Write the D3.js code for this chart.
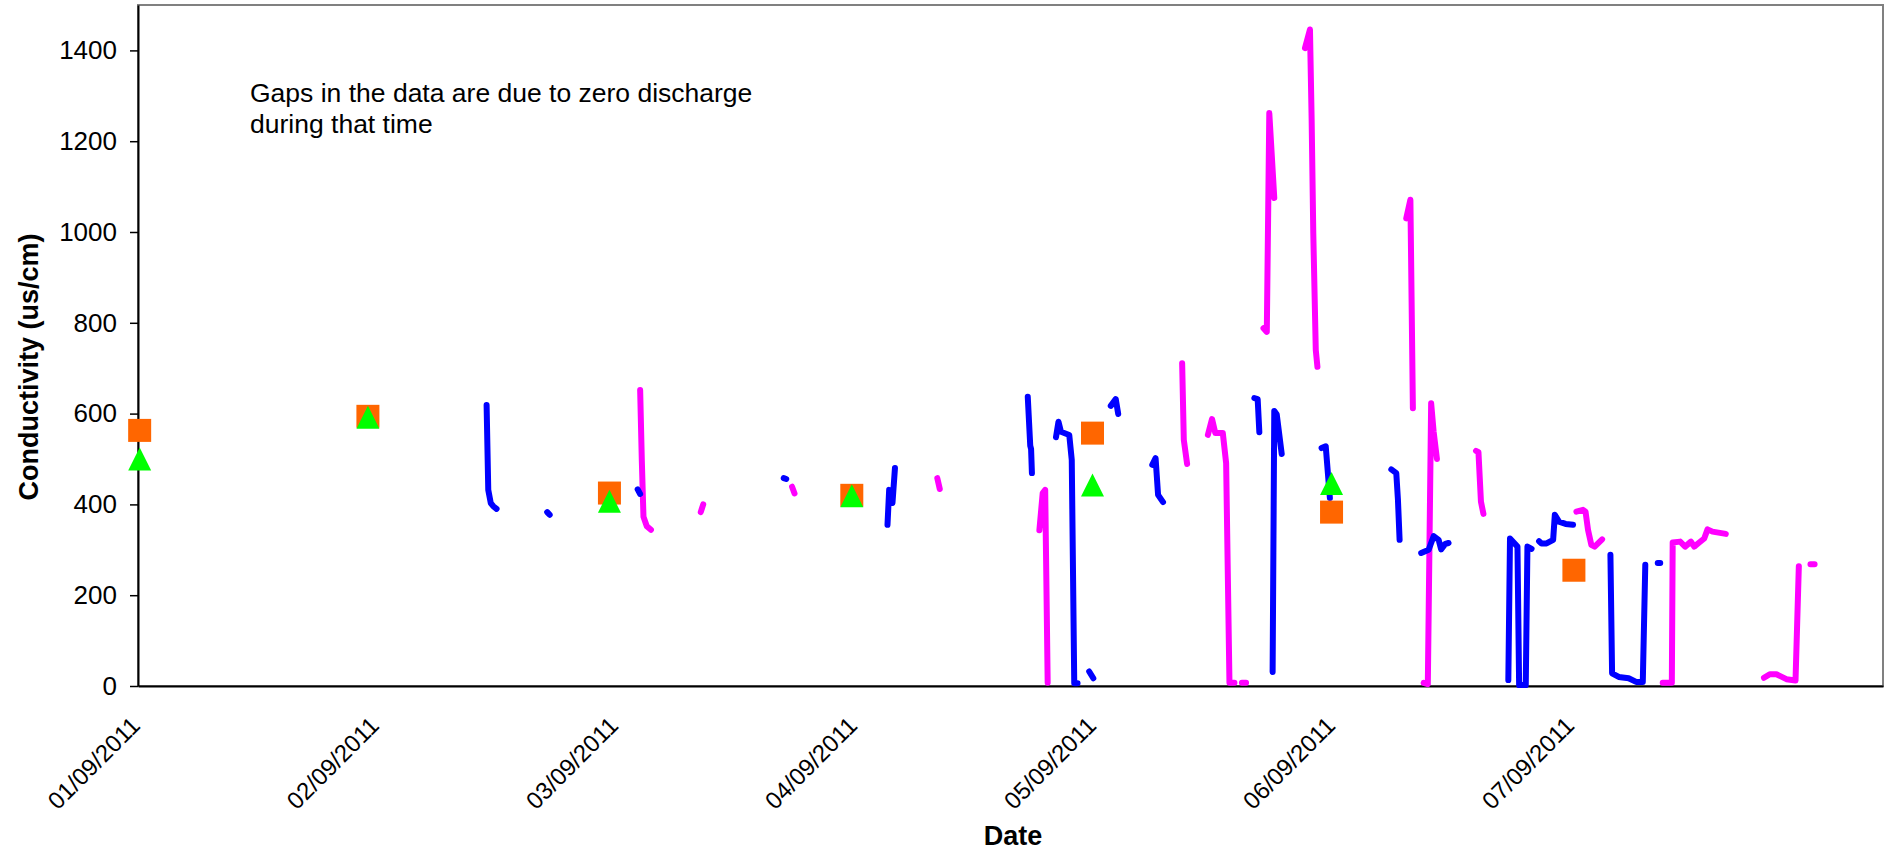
<!DOCTYPE html>
<html>
<head>
<meta charset="utf-8">
<script src="https://cdnjs.cloudflare.com/ajax/libs/d3/7.8.5/d3.min.js"></script>
<style>
body { margin: 0; background: #fff; }
svg { display: block; font-family: "Liberation Sans", Arial, sans-serif; }
</style>
</head>
<body>
<div id="chart"></div>
<script>
// values (null = gap, no discharge)
var yTicks = [0, 200, 400, 600, 800, 1000, 1200, 1400];
var xTickLabels = ["01/09/2011", "02/09/2011", "03/09/2011", "04/09/2011", "05/09/2011", "06/09/2011", "07/09/2011"];

var blueTimes = [
	"02/09/2011 11:00", "02/09/2011 11:10", "02/09/2011 11:25", "02/09/2011 11:40", "02/09/2011 12:00", null,
	"02/09/2011 17:05", "02/09/2011 17:20", null,
	"03/09/2011 02:10", "03/09/2011 02:25", null,
	"03/09/2011 16:50", "03/09/2011 17:05", null,
	"04/09/2011 03:15", "04/09/2011 03:25", "04/09/2011 03:45", "04/09/2011 04:00", null,
	"04/09/2011 17:20", "04/09/2011 17:35", "04/09/2011 17:40", "04/09/2011 17:45", null,
	"04/09/2011 20:10", "04/09/2011 20:25", "04/09/2011 20:40", "04/09/2011 21:30", "04/09/2011 21:45", "04/09/2011 22:00", "04/09/2011 22:20", null,
	"04/09/2011 23:30", "04/09/2011 23:55", null,
	"05/09/2011 01:40", "05/09/2011 02:10", "05/09/2011 02:25", null,
	"05/09/2011 05:50", "05/09/2011 06:10", "05/09/2011 06:25", "05/09/2011 06:55", null,
	"05/09/2011 16:05", "05/09/2011 16:25", "05/09/2011 16:35", null,
	"05/09/2011 17:55", "05/09/2011 18:05", "05/09/2011 18:20", "05/09/2011 18:50", null,
	"05/09/2011 22:50", "05/09/2011 23:15", "05/09/2011 23:40", null,
	"06/09/2011 05:50", "06/09/2011 06:20", "06/09/2011 06:30", "06/09/2011 06:40", null,
	"06/09/2011 08:50", "06/09/2011 09:35", "06/09/2011 10:05", "06/09/2011 10:35", "06/09/2011 10:50", "06/09/2011 11:15", "06/09/2011 11:35", null,
	"06/09/2011 17:35", "06/09/2011 17:45", "06/09/2011 18:30", "06/09/2011 18:40", "06/09/2011 19:20", "06/09/2011 19:30", "06/09/2011 19:55", null,
	"06/09/2011 20:40", "06/09/2011 20:55", "06/09/2011 21:25", "06/09/2011 22:05", "06/09/2011 22:15", "06/09/2011 22:40", "06/09/2011 23:20", "07/09/2011 00:05", null,
	"07/09/2011 03:50", "07/09/2011 04:00", "07/09/2011 04:40", "07/09/2011 05:40", "07/09/2011 06:25", "07/09/2011 07:05", "07/09/2011 07:20", null,
	"07/09/2011 08:35", "07/09/2011 08:50"
];
var blueValues = [
	619, 432, 403, 396, 390, null,
	383, 377, null,
	433, 423, null,
	458, 456, null,
	355, 432, 403, 480, null,
	637, 529, 522, 469, null,
	548, 582, 560, 553, 498, 6, 6, null,
	32, 17, null,
	617, 632, 599, null,
	487, 502, 421, 405, null,
	634, 632, 559, null,
	31, 606, 598, 511, null,
	524, 528, 414, null,
	477, 469, 410, 322, null,
	293, 300, 330, 322, 301, 313, 315, null,
	13, 325, 307, 2, 2, 307, 302, null,
	319, 314, 314, 322, 377, 362, 357, 355, null,
	289, 28, 20, 17, 9, 9, 267, null,
	271, 271
];

var magentaTimes = [
	"03/09/2011 02:25", "03/09/2011 02:35", "03/09/2011 02:45", "03/09/2011 03:05", "03/09/2011 03:30", null,
	"03/09/2011 08:30", "03/09/2011 08:45", null,
	"03/09/2011 17:40", "03/09/2011 17:55", null,
	"04/09/2011 08:15", "04/09/2011 08:30", null,
	"04/09/2011 18:30", "04/09/2011 18:50", "04/09/2011 19:05", "04/09/2011 19:20", null,
	"05/09/2011 08:50", "05/09/2011 09:00", "05/09/2011 09:20", null,
	"05/09/2011 11:25", "05/09/2011 11:50", "05/09/2011 12:10", "05/09/2011 12:55", "05/09/2011 13:15", "05/09/2011 13:35", "05/09/2011 14:05", null,
	"05/09/2011 14:50", "05/09/2011 15:15", null,
	"05/09/2011 17:00", "05/09/2011 17:20", "05/09/2011 17:35", "05/09/2011 18:05", null,
	"05/09/2011 21:10", "05/09/2011 21:40", "05/09/2011 21:50", "05/09/2011 22:00", "05/09/2011 22:15", "05/09/2011 22:25", null,
	"06/09/2011 07:20", "06/09/2011 07:45", "06/09/2011 08:00", null,
	"06/09/2011 09:05", "06/09/2011 09:30", "06/09/2011 09:50", "06/09/2011 10:05", "06/09/2011 10:25", null,
	"06/09/2011 14:20", "06/09/2011 14:35", "06/09/2011 14:50", "06/09/2011 15:05", null,
	"07/09/2011 00:25", "07/09/2011 01:05", "07/09/2011 01:20", "07/09/2011 01:35", "07/09/2011 01:55", "07/09/2011 02:15", "07/09/2011 03:00", null,
	"07/09/2011 09:05", "07/09/2011 10:00", "07/09/2011 10:05", "07/09/2011 10:50", "07/09/2011 11:20", "07/09/2011 11:55", "07/09/2011 12:15", "07/09/2011 12:45", "07/09/2011 13:15", "07/09/2011 13:35", "07/09/2011 14:05", "07/09/2011 15:25", null,
	"07/09/2011 19:15", "07/09/2011 19:50", "07/09/2011 20:30", "07/09/2011 21:30", "07/09/2011 22:25", "07/09/2011 22:45", null,
	"07/09/2011 23:55", "08/09/2011 00:20"
];
var magentaValues = [
	652, 497, 373, 352, 344, null,
	383, 400, null,
	439, 424, null,
	458, 434, null,
	343, 425, 432, 7, null,
	711, 542, 489, null,
	553, 588, 557, 557, 491, 7, 7, null,
	7, 7, null,
	788, 780, 1262, 1075, null,
	1405, 1446, 1250, 997, 740, 703, null,
	1030, 1071, 612, null,
	7, 4, 623, 560, 500, null,
	518, 515, 406, 379, null,
	384, 388, 384, 344, 311, 307, 323, null,
	7, 7, 316, 318, 307, 318, 307, 316, 325, 345, 340, 335, null,
	18, 26, 26, 15, 12, 264, null,
	268, 268
];

// grab samples
var sampleTimes = ["01/09/2011 00:10", "01/09/2011 23:05", "02/09/2011 23:20", "03/09/2011 23:40", "04/09/2011 23:50", "05/09/2011 23:50", "07/09/2011 00:10"];
var squareValues = [563, 594, 425, 420, 557, 383, 255];
var triangleValues = [500, 592, 407, 419, 443, 446, null];

var noteLines = ["Gaps in the data are due to zero discharge", "during that time"];

var parse = d3.timeParse("%d/%m/%Y %H:%M");
var parseDay = d3.timeParse("%d/%m/%Y");

function toPoints(times, values) {
	return times.map(function(t, i) { return {t: t == null ? null : parse(t), v: values[i]}; });
}
var blueData = toPoints(blueTimes, blueValues);
var magentaData = toPoints(magentaTimes, magentaValues);
var samples = sampleTimes.map(function(t, i) { return {t: parse(t), sq: squareValues[i], tri: triangleValues[i]}; });

var svg = d3.select("#chart").append("svg")
	.attr("width", 1887)
	.attr("height", 856);

svg.append("rect").attr("width", 1887).attr("height", 856).attr("fill", "#fff");

var x = d3.scaleTime()
	.domain([parse("01/09/2011 00:00"), parse("08/09/2011 07:12")])
	.range([138, 1883]);
var y = d3.scaleLinear()
	.domain([0, 1500])
	.range([686, 5]);

// plot area frame
svg.append("rect")
	.attr("x", x.range()[0])
	.attr("y", y.range()[1])
	.attr("width", x.range()[1] - x.range()[0])
	.attr("height", y.range()[0] - y.range()[1])
	.attr("fill", "none")
	.attr("stroke", "#808080")
	.attr("stroke-width", 2);

// y axis
var yAxis = svg.append("g")
	.attr("transform", "translate(" + x.range()[0] + ",0)")
	.call(d3.axisLeft(y).tickValues(yTicks).tickFormat(d3.format("d")).tickSize(8).tickSizeOuter(0).tickPadding(13));
yAxis.select(".domain").attr("stroke", "#000").attr("stroke-width", 2);
yAxis.selectAll(".tick line").attr("stroke", "#000").attr("stroke-width", 1.5);
yAxis.selectAll(".tick text")
	.attr("font-size", 26)
	.attr("font-family", "Liberation Sans, Arial, sans-serif")
	.attr("fill", "#000");

// x axis
var xAxis = svg.append("g")
	.attr("transform", "translate(0," + y(0) + ")")
	.call(d3.axisBottom(x)
		.tickValues(xTickLabels.map(parseDay))
		.tickSize(0)
		.tickSizeOuter(0)
		.tickFormat(d3.timeFormat("%d/%m/%Y")));
xAxis.select(".domain").attr("stroke", "#000").attr("stroke-width", 2);
xAxis.selectAll(".tick text")
	.attr("font-size", 24)
	.attr("font-family", "Liberation Sans, Arial, sans-serif")
	.attr("fill", "#000")
	.attr("x", 0).attr("y", 0).attr("dy", 0)
	.attr("text-anchor", "end")
	.attr("transform", "translate(3,41) rotate(-45)");

// axis titles
svg.append("text")
	.attr("transform", "translate(38," + 367 + ") rotate(-90)")
	.attr("text-anchor", "middle")
	.attr("font-size", 27)
	.attr("font-weight", "bold")
	.text("Conductivity (us/cm)");

svg.append("text")
	.attr("x", 1013)
	.attr("y", 845)
	.attr("text-anchor", "middle")
	.attr("font-size", 27)
	.attr("font-weight", "bold")
	.text("Date");

// note
svg.append("g").selectAll("text")
	.data(noteLines)
	.enter().append("text")
	.attr("x", 250)
	.attr("y", function(d, i) { return 102 + i * 31.3; })
	.attr("font-size", 26.5)
	.text(function(d) { return d; });

var line = d3.line()
	.defined(function(d) { return d.v != null && d.t != null; })
	.x(function(d) { return x(d.t); })
	.y(function(d) { return y(d.v); });

svg.append("path")
	.datum(magentaData)
	.attr("fill", "none")
	.attr("stroke", "#FF00FF")
	.attr("stroke-width", 6)
	.attr("stroke-linecap", "round")
	.attr("stroke-linejoin", "round")
	.attr("d", line);

svg.append("path")
	.datum(blueData)
	.attr("fill", "none")
	.attr("stroke", "#0000FF")
	.attr("stroke-width", 6)
	.attr("stroke-linecap", "round")
	.attr("stroke-linejoin", "round")
	.attr("d", line);

// sample markers
var mk = 23;
svg.append("g").selectAll("rect")
	.data(samples.filter(function(d) { return d.sq != null; }))
	.enter().append("rect")
	.attr("x", function(d) { return x(d.t) - mk / 2; })
	.attr("y", function(d) { return y(d.sq) - mk / 2; })
	.attr("width", mk)
	.attr("height", mk)
	.attr("fill", "#FF6600");

svg.append("g").selectAll("path")
	.data(samples.filter(function(d) { return d.tri != null; }))
	.enter().append("path")
	.attr("d", function(d) {
		var cx = x(d.t), cy = y(d.tri);
		return "M" + cx + "," + (cy - mk / 2) + "L" + (cx + mk / 2) + "," + (cy + mk / 2) + "L" + (cx - mk / 2) + "," + (cy + mk / 2) + "Z";
	})
	.attr("fill", "#00FF00");
</script>
</body>
</html>
